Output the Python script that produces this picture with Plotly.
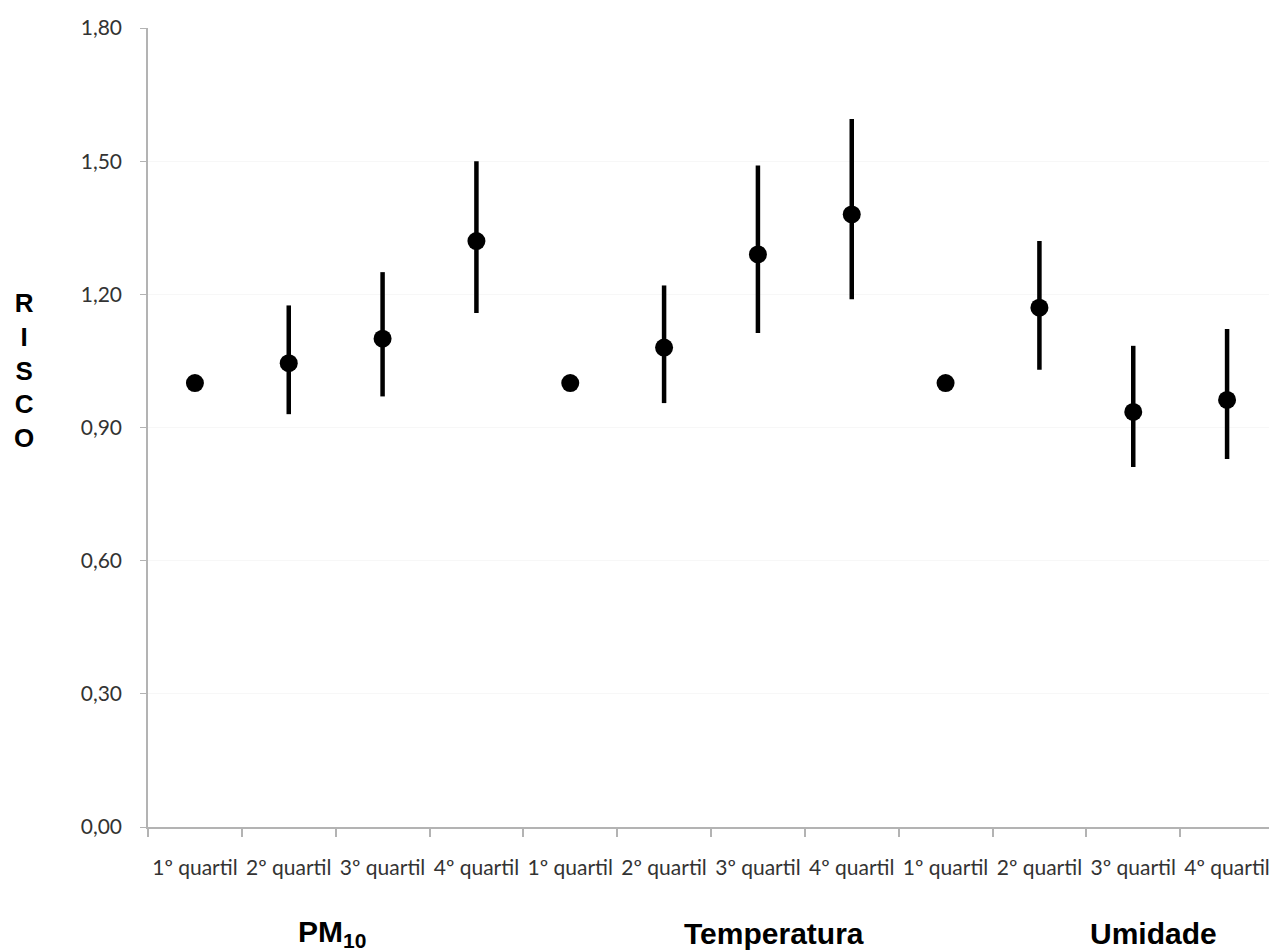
import plotly.graph_objects as go

groups = ["PM<sub>10</sub>", "Temperatura", "Umidade"]
quartis = ["1º quartil", "2º quartil", "3º quartil", "4º quartil"]
risco = [1.00, 1.045, 1.10, 1.32,
         1.00, 1.08, 1.29, 1.38,
         1.00, 1.17, 0.935, 0.962]
ic_sup = [1.00, 1.175, 1.25, 1.50,
          1.00, 1.22, 1.49, 1.595,
          1.00, 1.32, 1.084, 1.122]
ic_inf = [1.00, 0.93, 0.97, 1.158,
          1.00, 0.955, 1.113, 1.189,
          1.00, 1.03, 0.811, 0.829]
y_ticks = [0.0, 0.3, 0.6, 0.9, 1.2, 1.5, 1.8]

n = len(risco)
xs = list(range(n))
ticktext = quartis * len(groups)
err_plus = [s - r for s, r in zip(ic_sup, risco)]
err_minus = [r - i for r, i in zip(risco, ic_inf)]

# page geometry (page has an 8px body margin)
PL, PR, PT, PB = 148, 1274, 28, 827

fig = go.Figure()
fig.add_trace(go.Scatter(
    x=xs, y=risco, mode="markers",
    marker=dict(color="black", size=18, symbol="circle"),
    error_y=dict(type="data", symmetric=False, array=err_plus, arrayminus=err_minus,
                 color="black", thickness=4.5, width=0),
    showlegend=False,
))

tick_font = dict(family="Lato, Liberation Sans, sans-serif", size=21, color="#333333")

fig.update_layout(
    width=1269, height=944,
    margin=dict(l=PL - 8, r=1277 - PR, t=PT - 8, b=944 - (PB - 8)),
    paper_bgcolor="white", plot_bgcolor="white",
    separators=",.",
    xaxis=dict(
        range=[-0.5, n - 0.5], tickvals=xs, ticktext=ticktext,
        ticks="", showgrid=False, zeroline=False,
        showline=True, linecolor="#b3b3b3", linewidth=1.5,
        tickfont=tick_font, ticklabelstandoff=21, ticklabeloverflow="allow",
        minor=dict(tickvals=[i - 0.5 for i in range(n + 1)], ticks="outside",
                   ticklen=8, tickcolor="#b3b3b3", tickwidth=1.5, showgrid=False),
    ),
    yaxis=dict(
        range=[0, 1.8], tickvals=y_ticks, tickformat=".2f",
        ticks="outside", ticklen=6, tickcolor="#b3b3b3", tickwidth=1,
        showgrid=True, gridcolor="#f7f7f7", gridwidth=1, zeroline=False,
        showline=True, linecolor="#b3b3b3", linewidth=1.5,
        tickfont=tick_font, ticklabelstandoff=14,
    ),
)


def px_to_paper(px, py):
    return (px - PL) / (PR - PL), (PB - py) / (PB - PT)


group_x = [332, 774, 1153]
for g, gx in zip(groups, group_x):
    ax, ay = px_to_paper(gx, 933)
    fig.add_annotation(text=f"<b>{g}</b>", x=ax, y=ay, xref="paper", yref="paper",
                       xanchor="center", yanchor="middle", showarrow=False,
                       font=dict(family="Liberation Sans, Arial, sans-serif", size=30, color="black"))

ax, ay = px_to_paper(24, 370)
fig.add_annotation(text="<b>R<br>I<br>S<br>C<br>O</b>", xref="paper", yref="paper",
                   x=ax, y=ay, xanchor="center", yanchor="middle",
                   showarrow=False, align="center",
                   font=dict(family="Liberation Sans, Arial, sans-serif", size=26, color="black"))

fig.write_html("out.html")
